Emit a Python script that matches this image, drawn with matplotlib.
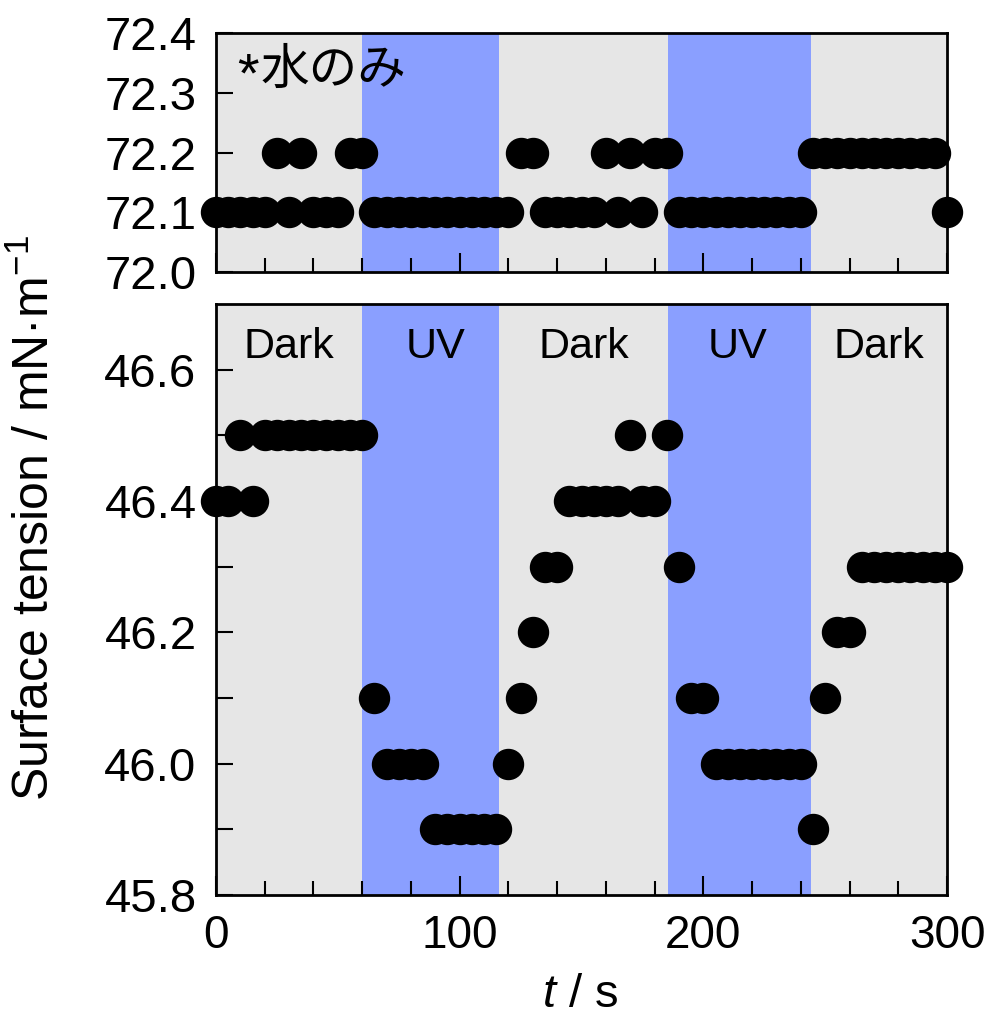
import matplotlib
matplotlib.use("Agg")
import matplotlib.pyplot as plt

plt.rcParams["font.family"] = ["Liberation Sans", "DejaVu Sans"]
plt.rcParams["mathtext.fontset"] = "custom"
plt.rcParams["mathtext.rm"] = "Liberation Sans"
plt.rcParams["mathtext.it"] = "Liberation Sans:italic"

# Measurement times (s)
t = [0, 5, 10, 15, 20, 25, 30, 35, 40, 45, 50, 55, 60,
     65, 70, 75, 80, 85, 90, 95, 100, 105, 110, 115, 120,
     125, 130, 135, 140, 145, 150, 155, 160, 165, 170, 175, 180, 185,
     190, 195, 200, 205, 210, 215, 220, 225, 230, 235, 240,
     245, 250, 255, 260, 265, 270, 275, 280, 285, 290, 295, 300]

# Pure water reference (mN/m)
water = [72.1, 72.1, 72.1, 72.1, 72.1, 72.2, 72.1, 72.2, 72.1, 72.1, 72.1, 72.2, 72.2,
         72.1, 72.1, 72.1, 72.1, 72.1, 72.1, 72.1, 72.1, 72.1, 72.1, 72.1, 72.1,
         72.2, 72.2, 72.1, 72.1, 72.1, 72.1, 72.1, 72.2, 72.1, 72.2, 72.1, 72.2, 72.2,
         72.1, 72.1, 72.1, 72.1, 72.1, 72.1, 72.1, 72.1, 72.1, 72.1, 72.1,
         72.2, 72.2, 72.2, 72.2, 72.2, 72.2, 72.2, 72.2, 72.2, 72.2, 72.2, 72.1]

# Sample solution (mN/m)
sample = [46.4, 46.4, 46.5, 46.4, 46.5, 46.5, 46.5, 46.5, 46.5, 46.5, 46.5, 46.5, 46.5,
          46.1, 46.0, 46.0, 46.0, 46.0, 45.9, 45.9, 45.9, 45.9, 45.9, 45.9, 46.0,
          46.1, 46.2, 46.3, 46.3, 46.4, 46.4, 46.4, 46.4, 46.4, 46.5, 46.4, 46.4, 46.5,
          46.3, 46.1, 46.1, 46.0, 46.0, 46.0, 46.0, 46.0, 46.0, 46.0, 46.0,
          45.9, 46.1, 46.2, 46.2, 46.3, 46.3, 46.3, 46.3, 46.3, 46.3, 46.3, 46.3]

# UV irradiation intervals (s)
uv_start = [60, 185.7]
uv_end = [116.3, 244]

phase_labels = ["Dark", "UV", "Dark", "UV", "Dark"]
phase_pos = [30, 90, 151, 214, 272]

GRAY = "#E6E6E6"
BLUE = "#8A9FFF"

W, H = 984, 1019
fig = plt.figure(figsize=(W / 100, H / 100), dpi=100)

left, right = 216 / W, 947 / W
ax1 = fig.add_axes([left, 1 - 272 / H, right - left, (272 - 33) / H])
ax2 = fig.add_axes([left, 1 - 895 / H, right - left, (895 - 304) / H])

for ax in (ax1, ax2):
    ax.set_facecolor(GRAY)
    for s, e in zip(uv_start, uv_end):
        ax.axvspan(s, e, color=BLUE, lw=0, zorder=1)
    ax.set_xlim(0, 300)
    ax.set_xticks([0, 100, 200, 300])
    ax.set_xticks(range(0, 301, 20), minor=True)
    ax.tick_params(axis="x", which="major", direction="in", length=14, width=1.5,
                   labelsize=33, pad=14)
    ax.tick_params(axis="x", which="minor", direction="in", length=10, width=1.5)
    ax.tick_params(axis="y", which="both", direction="in", length=12, width=1.5,
                   labelsize=34, pad=14)
    for sp in ax.spines.values():
        sp.set_linewidth(2)
        sp.set_zorder(2.5)

ax1.plot(t, water, "o", ls="none", color="black", ms=21.6, clip_on=False, zorder=3)
ax1.set_ylim(72.0, 72.4)
ax1.set_yticks([72.0, 72.1, 72.2, 72.3, 72.4])
ax1.set_yticklabels(["72.0", "72.1", "72.2", "72.3", "72.4"])
ax1.tick_params(axis="x", which="both", labelbottom=False)

# Panel note: water only
ax1.text((248 - 216) / 731, 0.815, "*", transform=ax1.transAxes, ha="center",
         va="center", fontsize=40, family=["Liberation Sans"], zorder=4)
ax1.text((261 - 216) / 731, 0.845, "水のみ", transform=ax1.transAxes, ha="left",
         va="center", fontsize=35, family=["Noto Sans CJK JP", "DejaVu Sans"], zorder=4)

ax2.plot(t, sample, "o", ls="none", color="black", ms=21.6, clip_on=False, zorder=3)
ax2.set_ylim(45.8, 46.7)
ax2.set_yticks([45.8, 46.0, 46.2, 46.4, 46.6])
ax2.set_yticklabels(["45.8", "46.0", "46.2", "46.4", "46.6"])
ax2.set_yticks([45.9, 46.1, 46.3, 46.5], minor=True)
for lab, x in zip(phase_labels, phase_pos):
    ax2.text(x, 0.927, lab, transform=ax2.get_xaxis_transform(), ha="center",
             va="center", fontsize=31, zorder=4)

fig.text(35 / W, 1 - 518 / H, "Surface tension / mN·m$^{-1}$", rotation=90,
         ha="center", va="center", fontsize=36)
fig.text(580 / W, 1 - 995 / H, "$t$ / s", ha="center", va="center", fontsize=34)

fig.savefig("out.png", dpi=100)
